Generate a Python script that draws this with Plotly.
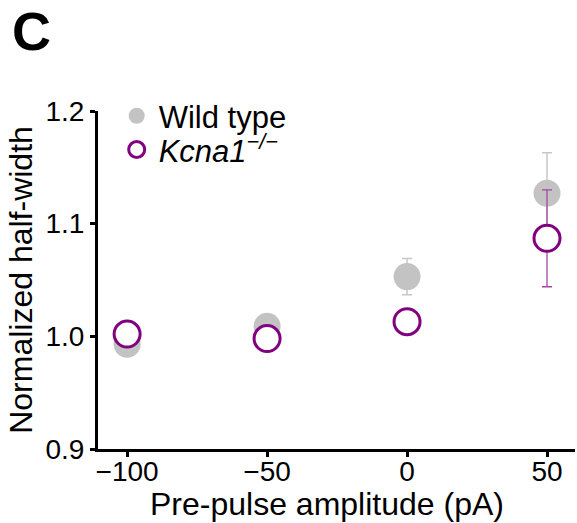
import plotly.graph_objects as go

pre_pulse = [-100, -50, 0, 50]
wt_mean = [0.993, 1.009, 1.053, 1.127]
wt_err = [0.005, 0.005, 0.016, 0.036]
ko_mean = [1.002, 0.998, 1.013, 1.087]
ko_err = [0.005, 0.005, 0.005, 0.043]
x_ticks = [-100, -50, 0, 50]
y_ticks = [0.9, 1.0, 1.1, 1.2]

FONT = "Liberation Sans, Arial, sans-serif"

fig = go.Figure()
fig.add_trace(go.Scatter(
    x=pre_pulse, y=wt_mean, mode="markers", name="Wild type", legend="legend",
    marker=dict(color="#c3c3c3", size=27, line=dict(width=0)),
    error_y=dict(type="data", array=wt_err, color="#c8c8c8", thickness=1.5, width=5),
))
fig.add_trace(go.Scatter(
    x=pre_pulse, y=ko_mean, mode="markers", name="<i>Kcna1<sup>−/−</sup></i>", legend="legend2",
    marker=dict(color="white", size=26, line=dict(color="#800080", width=3)),
    error_y=dict(type="data", array=ko_err, color="#a646a6", thickness=1.3, width=5),
))

leg_common = dict(xanchor="left", yanchor="middle", bgcolor="rgba(0,0,0,0)",
                  font=dict(family=FONT, size=31, color="black"),
                  itemsizing="trace", itemwidth=34)

fig.update_layout(
    width=577, height=523,
    margin=dict(l=98, r=2, t=111, b=74),
    paper_bgcolor="white", plot_bgcolor="white",
    font=dict(family=FONT, size=28, color="black"),
    showlegend=True,
    legend=dict(x=0.035, y=0.985, **leg_common),
    legend2=dict(x=0.035, y=0.885, **leg_common),
    xaxis=dict(range=[-110.4, 60], tickvals=x_ticks, showline=True, linecolor="black",
               linewidth=3, ticks="outside", ticklen=5, tickwidth=3, tickcolor="black",
               showgrid=False, zeroline=False, tickfont=dict(size=28),
               ticklabelstandoff=-10),
    yaxis=dict(range=[0.9, 1.2], tickvals=y_ticks, tickformat=".1f", showline=True,
               linecolor="black", linewidth=3, ticks="outside", ticklen=5, tickwidth=3,
               tickcolor="black", showgrid=False, zeroline=False, tickfont=dict(size=28),
               title=dict(text="Normalized half-width", standoff=4,
                          font=dict(size=32))),
    annotations=[
        dict(text="<b>C</b>", xref="paper", yref="paper", x=-0.185, y=1.33,
             xanchor="left", yanchor="top", showarrow=False,
             font=dict(family=FONT, size=54, color="black")),
        dict(text="Pre-pulse amplitude (pA)", xref="paper", yref="paper",
             x=0.48, y=-0.222, xanchor="center", yanchor="bottom", showarrow=False,
             font=dict(family=FONT, size=32, color="black")),
    ],
)

fig.write_html("out.html")
